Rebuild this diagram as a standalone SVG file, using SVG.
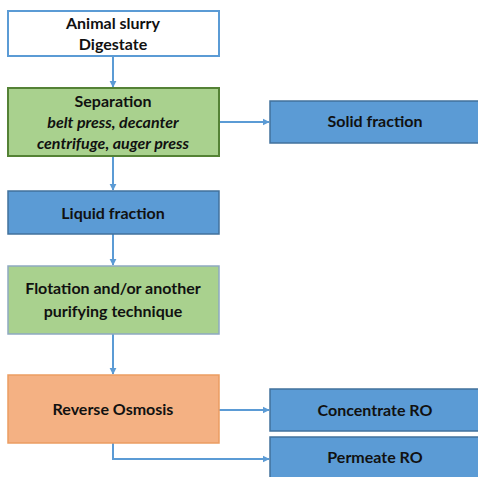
<svg xmlns="http://www.w3.org/2000/svg" width="478" height="477" viewBox="0 0 478 477">
<style>
text{font-family:Lato,"Open Sans","Liberation Sans",sans-serif;font-size:16px;font-weight:bold;fill:#111;text-anchor:middle}
.it{font-style:italic}
.blue{fill:#5B9BD5;stroke:#41719C;stroke-width:1.5}
.c{fill:none;stroke:#5B9BD5;stroke-width:2}
</style>
<defs>
<marker id="ah" viewBox="0 0 10 10" refX="9" refY="5" markerWidth="7" markerHeight="8" orient="auto" markerUnits="userSpaceOnUse">
<path d="M0,0 L10,5 L0,10 z" fill="#5B9BD5"/>
</marker>
</defs>
<rect width="478" height="477" fill="#fff"/>
<g id="connectors">
<path class="c" d="M113,56 V87" marker-end="url(#ah)"/>
<path class="c" d="M219,122 H269" marker-end="url(#ah)"/>
<path class="c" d="M113,156 V190" marker-end="url(#ah)"/>
<path class="c" d="M113,234 V265" marker-end="url(#ah)"/>
<path class="c" d="M113,334 V374" marker-end="url(#ah)"/>
<path class="c" d="M219,410 H269" marker-end="url(#ah)"/>
<path class="c" d="M113,443 V459 H269" marker-end="url(#ah)"/>
</g>
<g id="animal">
<rect x="8" y="11" width="211" height="45" fill="#fff" stroke="#5B9BD5" stroke-width="2"/>
<text x="113" y="29">Animal slurry</text>
<text x="113" y="50">Digestate</text>
</g>
<g id="separation">
<rect x="8" y="88" width="211" height="68" fill="#A9D18E" stroke="#548235" stroke-width="2"/>
<text x="113" y="107">Separation</text>
<text x="113" y="128" class="it">belt press, decanter</text>
<text x="113" y="149" class="it">centrifuge, auger press</text>
</g>
<g id="solid">
<rect x="270" y="101" width="212" height="42" class="blue"/>
<text x="375" y="127">Solid fraction</text>
</g>
<g id="liquid">
<rect x="8" y="191" width="211" height="43" class="blue"/>
<text x="113" y="219">Liquid fraction</text>
</g>
<g id="flotation">
<rect x="8" y="266" width="211" height="68" fill="#A9D18E" stroke="#8EA9C1" stroke-width="1.5"/>
<text x="113" y="294">Flotation and/or another</text>
<text x="113" y="317">purifying technique</text>
</g>
<g id="ro">
<rect x="8" y="375" width="211" height="68" fill="#F4B183" stroke="#EB9D62" stroke-width="1.5"/>
<text x="113" y="415">Reverse Osmosis</text>
</g>
<g id="concentrate">
<rect x="270" y="389" width="212" height="42" class="blue"/>
<text x="375" y="416">Concentrate RO</text>
</g>
<g id="permeate">
<rect x="270" y="437" width="212" height="45" class="blue"/>
<text x="375" y="463">Permeate RO</text>
</g>
</svg>
